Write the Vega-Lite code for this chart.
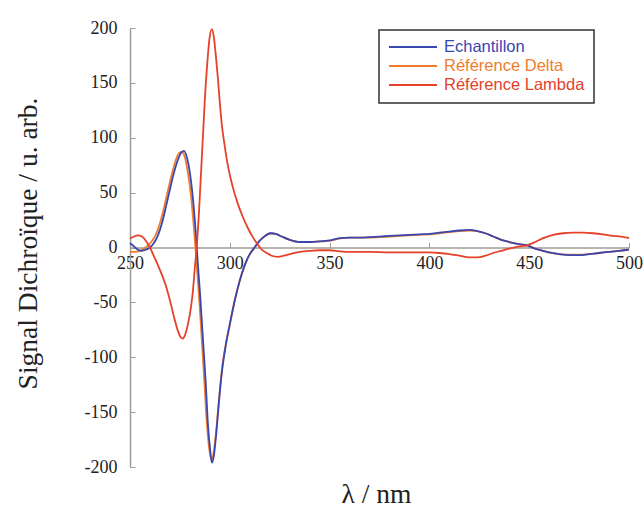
{
  "$schema": "https://vega.github.io/schema/vega-lite/v6.json",
  "autosize": {"type": "none"},
  "width": 499,
  "height": 439,
  "padding": {"left": 130, "top": 28, "right": 15, "bottom": 42},
  "background": "white",
  "config": {"view": {"stroke": null}, "axis": {"labelFont": "Times New Roman, Liberation Serif, serif", "titleFont": "Liberation Serif"}},
  "data": {"values": [
    {"s": "Référence Delta", "x": 250, "y": -4}, {"s": "Référence Delta", "x": 252, "y": -4}, {"s": "Référence Delta", "x": 255, "y": -3}, {"s": "Référence Delta", "x": 257, "y": -1}, {"s": "Référence Delta", "x": 259, "y": 2}, {"s": "Référence Delta", "x": 261, "y": 6}, {"s": "Référence Delta", "x": 263, "y": 12}, {"s": "Référence Delta", "x": 265, "y": 22}, {"s": "Référence Delta", "x": 267, "y": 36}, {"s": "Référence Delta", "x": 269, "y": 52}, {"s": "Référence Delta", "x": 271, "y": 67}, {"s": "Référence Delta", "x": 273, "y": 80}, {"s": "Référence Delta", "x": 274.5, "y": 86}, {"s": "Référence Delta", "x": 276, "y": 87}, {"s": "Référence Delta", "x": 277.5, "y": 82}, {"s": "Référence Delta", "x": 279, "y": 68}, {"s": "Référence Delta", "x": 280.5, "y": 48}, {"s": "Référence Delta", "x": 282, "y": 18}, {"s": "Référence Delta", "x": 283, "y": -5}, {"s": "Référence Delta", "x": 284, "y": -30}, {"s": "Référence Delta", "x": 285.5, "y": -70}, {"s": "Référence Delta", "x": 287, "y": -115}, {"s": "Référence Delta", "x": 288.5, "y": -160}, {"s": "Référence Delta", "x": 289.8, "y": -185}, {"s": "Référence Delta", "x": 290.8, "y": -193}, {"s": "Référence Delta", "x": 291.8, "y": -188}, {"s": "Référence Delta", "x": 293, "y": -170}, {"s": "Référence Delta", "x": 294.5, "y": -140}, {"s": "Référence Delta", "x": 296, "y": -112}, {"s": "Référence Delta", "x": 298, "y": -88}, {"s": "Référence Delta", "x": 300, "y": -70}, {"s": "Référence Delta", "x": 302.5, "y": -48}, {"s": "Référence Delta", "x": 305, "y": -30}, {"s": "Référence Delta", "x": 307.5, "y": -16}, {"s": "Référence Delta", "x": 310, "y": -6}, {"s": "Référence Delta", "x": 312, "y": -1}, {"s": "Référence Delta", "x": 314, "y": 4}, {"s": "Référence Delta", "x": 316, "y": 8}, {"s": "Référence Delta", "x": 318, "y": 11}, {"s": "Référence Delta", "x": 320.5, "y": 13}, {"s": "Référence Delta", "x": 323, "y": 12.5}, {"s": "Référence Delta", "x": 326, "y": 10}, {"s": "Référence Delta", "x": 330, "y": 7}, {"s": "Référence Delta", "x": 335, "y": 5}, {"s": "Référence Delta", "x": 340, "y": 5}, {"s": "Référence Delta", "x": 345, "y": 5.5}, {"s": "Référence Delta", "x": 350, "y": 6}, {"s": "Référence Delta", "x": 355, "y": 8}, {"s": "Référence Delta", "x": 360, "y": 9}, {"s": "Référence Delta", "x": 365, "y": 9}, {"s": "Référence Delta", "x": 370, "y": 9}, {"s": "Référence Delta", "x": 375, "y": 9.5}, {"s": "Référence Delta", "x": 380, "y": 10}, {"s": "Référence Delta", "x": 385, "y": 10.5}, {"s": "Référence Delta", "x": 390, "y": 11}, {"s": "Référence Delta", "x": 395, "y": 11.5}, {"s": "Référence Delta", "x": 400, "y": 12}, {"s": "Référence Delta", "x": 405, "y": 13}, {"s": "Référence Delta", "x": 410, "y": 14}, {"s": "Référence Delta", "x": 415, "y": 15}, {"s": "Référence Delta", "x": 420, "y": 15.5}, {"s": "Référence Delta", "x": 424, "y": 15}, {"s": "Référence Delta", "x": 428, "y": 13}, {"s": "Référence Delta", "x": 432, "y": 10}, {"s": "Référence Delta", "x": 436, "y": 7}, {"s": "Référence Delta", "x": 440, "y": 5}, {"s": "Référence Delta", "x": 445, "y": 3}, {"s": "Référence Delta", "x": 449, "y": 2}, {"s": "Référence Delta", "x": 453, "y": -1}, {"s": "Référence Delta", "x": 457, "y": -3}, {"s": "Référence Delta", "x": 460, "y": -4.5}, {"s": "Référence Delta", "x": 465, "y": -6}, {"s": "Référence Delta", "x": 470, "y": -6.5}, {"s": "Référence Delta", "x": 475, "y": -6.5}, {"s": "Référence Delta", "x": 480, "y": -6}, {"s": "Référence Delta", "x": 485, "y": -5}, {"s": "Référence Delta", "x": 490, "y": -4}, {"s": "Référence Delta", "x": 495, "y": -3}, {"s": "Référence Delta", "x": 500, "y": -2},

    {"s": "Echantillon", "x": 250, "y": 4}, {"s": "Echantillon", "x": 252, "y": 1}, {"s": "Echantillon", "x": 254, "y": -2}, {"s": "Echantillon", "x": 256, "y": -3}, {"s": "Echantillon", "x": 258, "y": -2}, {"s": "Echantillon", "x": 260, "y": 0}, {"s": "Echantillon", "x": 262, "y": 4}, {"s": "Echantillon", "x": 264, "y": 11}, {"s": "Echantillon", "x": 266, "y": 22}, {"s": "Echantillon", "x": 268, "y": 37}, {"s": "Echantillon", "x": 270, "y": 53}, {"s": "Echantillon", "x": 272, "y": 68}, {"s": "Echantillon", "x": 274, "y": 80}, {"s": "Echantillon", "x": 275.5, "y": 86}, {"s": "Echantillon", "x": 277, "y": 88}, {"s": "Echantillon", "x": 278.5, "y": 82}, {"s": "Echantillon", "x": 280, "y": 68}, {"s": "Echantillon", "x": 281.5, "y": 45}, {"s": "Echantillon", "x": 283, "y": 12}, {"s": "Echantillon", "x": 284, "y": -15}, {"s": "Echantillon", "x": 285.2, "y": -45}, {"s": "Echantillon", "x": 286.6, "y": -85}, {"s": "Echantillon", "x": 288, "y": -125}, {"s": "Echantillon", "x": 289, "y": -160}, {"s": "Echantillon", "x": 290.2, "y": -185}, {"s": "Echantillon", "x": 291, "y": -196}, {"s": "Echantillon", "x": 292, "y": -190}, {"s": "Echantillon", "x": 293.2, "y": -170}, {"s": "Echantillon", "x": 294.5, "y": -142}, {"s": "Echantillon", "x": 296, "y": -114}, {"s": "Echantillon", "x": 298, "y": -89}, {"s": "Echantillon", "x": 300, "y": -70}, {"s": "Echantillon", "x": 302.5, "y": -48}, {"s": "Echantillon", "x": 305, "y": -30}, {"s": "Echantillon", "x": 307.5, "y": -16}, {"s": "Echantillon", "x": 310, "y": -6}, {"s": "Echantillon", "x": 312, "y": -1}, {"s": "Echantillon", "x": 314, "y": 4}, {"s": "Echantillon", "x": 316, "y": 8}, {"s": "Echantillon", "x": 318, "y": 11}, {"s": "Echantillon", "x": 320.5, "y": 13}, {"s": "Echantillon", "x": 323, "y": 12.5}, {"s": "Echantillon", "x": 326, "y": 10}, {"s": "Echantillon", "x": 330, "y": 7}, {"s": "Echantillon", "x": 335, "y": 5}, {"s": "Echantillon", "x": 340, "y": 5}, {"s": "Echantillon", "x": 345, "y": 5.5}, {"s": "Echantillon", "x": 350, "y": 6.5}, {"s": "Echantillon", "x": 355, "y": 8.5}, {"s": "Echantillon", "x": 360, "y": 9}, {"s": "Echantillon", "x": 365, "y": 9}, {"s": "Echantillon", "x": 370, "y": 9.5}, {"s": "Echantillon", "x": 375, "y": 10}, {"s": "Echantillon", "x": 380, "y": 10.5}, {"s": "Echantillon", "x": 385, "y": 11}, {"s": "Echantillon", "x": 390, "y": 11.5}, {"s": "Echantillon", "x": 395, "y": 12}, {"s": "Echantillon", "x": 400, "y": 12.5}, {"s": "Echantillon", "x": 405, "y": 13.5}, {"s": "Echantillon", "x": 410, "y": 14.5}, {"s": "Echantillon", "x": 415, "y": 15.5}, {"s": "Echantillon", "x": 420, "y": 16}, {"s": "Echantillon", "x": 424, "y": 15}, {"s": "Echantillon", "x": 428, "y": 13}, {"s": "Echantillon", "x": 432, "y": 10}, {"s": "Echantillon", "x": 436, "y": 7}, {"s": "Echantillon", "x": 440, "y": 5}, {"s": "Echantillon", "x": 445, "y": 3}, {"s": "Echantillon", "x": 449, "y": 2}, {"s": "Echantillon", "x": 453, "y": -1}, {"s": "Echantillon", "x": 457, "y": -3}, {"s": "Echantillon", "x": 460, "y": -4.5}, {"s": "Echantillon", "x": 465, "y": -6}, {"s": "Echantillon", "x": 470, "y": -7}, {"s": "Echantillon", "x": 475, "y": -7}, {"s": "Echantillon", "x": 480, "y": -6}, {"s": "Echantillon", "x": 485, "y": -5}, {"s": "Echantillon", "x": 490, "y": -4}, {"s": "Echantillon", "x": 495, "y": -3}, {"s": "Echantillon", "x": 500, "y": -2},

    {"s": "Référence Lambda", "x": 250, "y": 8}, {"s": "Référence Lambda", "x": 252, "y": 10}, {"s": "Référence Lambda", "x": 254, "y": 11}, {"s": "Référence Lambda", "x": 256, "y": 10}, {"s": "Référence Lambda", "x": 258, "y": 6}, {"s": "Référence Lambda", "x": 260, "y": 0}, {"s": "Référence Lambda", "x": 262, "y": -8}, {"s": "Référence Lambda", "x": 264, "y": -16}, {"s": "Référence Lambda", "x": 266, "y": -25}, {"s": "Référence Lambda", "x": 268, "y": -35}, {"s": "Référence Lambda", "x": 270, "y": -48}, {"s": "Référence Lambda", "x": 272, "y": -63}, {"s": "Référence Lambda", "x": 274, "y": -76}, {"s": "Référence Lambda", "x": 275.5, "y": -82}, {"s": "Référence Lambda", "x": 276.5, "y": -83}, {"s": "Référence Lambda", "x": 277.5, "y": -80}, {"s": "Référence Lambda", "x": 279, "y": -70}, {"s": "Référence Lambda", "x": 280.5, "y": -55}, {"s": "Référence Lambda", "x": 281.5, "y": -40}, {"s": "Référence Lambda", "x": 282.5, "y": -18}, {"s": "Référence Lambda", "x": 283.5, "y": 2}, {"s": "Référence Lambda", "x": 284.5, "y": 30}, {"s": "Référence Lambda", "x": 285.5, "y": 65}, {"s": "Référence Lambda", "x": 286.5, "y": 100}, {"s": "Référence Lambda", "x": 287.5, "y": 135}, {"s": "Référence Lambda", "x": 288.6, "y": 165}, {"s": "Référence Lambda", "x": 289.8, "y": 190}, {"s": "Référence Lambda", "x": 291, "y": 199}, {"s": "Référence Lambda", "x": 292, "y": 192}, {"s": "Référence Lambda", "x": 293, "y": 175}, {"s": "Référence Lambda", "x": 294, "y": 155}, {"s": "Référence Lambda", "x": 295, "y": 132}, {"s": "Référence Lambda", "x": 296, "y": 112}, {"s": "Référence Lambda", "x": 297.5, "y": 92}, {"s": "Référence Lambda", "x": 299, "y": 75}, {"s": "Référence Lambda", "x": 301.5, "y": 55}, {"s": "Référence Lambda", "x": 304, "y": 40}, {"s": "Référence Lambda", "x": 306.5, "y": 28}, {"s": "Référence Lambda", "x": 309, "y": 18}, {"s": "Référence Lambda", "x": 311, "y": 11}, {"s": "Référence Lambda", "x": 313.5, "y": 4}, {"s": "Référence Lambda", "x": 316, "y": -2}, {"s": "Référence Lambda", "x": 318.5, "y": -5}, {"s": "Référence Lambda", "x": 321, "y": -7.5}, {"s": "Référence Lambda", "x": 324, "y": -8.5}, {"s": "Référence Lambda", "x": 327, "y": -7.5}, {"s": "Référence Lambda", "x": 331, "y": -5.5}, {"s": "Référence Lambda", "x": 335, "y": -4}, {"s": "Référence Lambda", "x": 340, "y": -3}, {"s": "Référence Lambda", "x": 345, "y": -2.5}, {"s": "Référence Lambda", "x": 350, "y": -2.5}, {"s": "Référence Lambda", "x": 355, "y": -3.5}, {"s": "Référence Lambda", "x": 360, "y": -4}, {"s": "Référence Lambda", "x": 370, "y": -4}, {"s": "Référence Lambda", "x": 380, "y": -4.5}, {"s": "Référence Lambda", "x": 390, "y": -4.5}, {"s": "Référence Lambda", "x": 400, "y": -4.5}, {"s": "Référence Lambda", "x": 405, "y": -5}, {"s": "Référence Lambda", "x": 410, "y": -6}, {"s": "Référence Lambda", "x": 415, "y": -7.5}, {"s": "Référence Lambda", "x": 420, "y": -9}, {"s": "Référence Lambda", "x": 424, "y": -9}, {"s": "Référence Lambda", "x": 428, "y": -7.5}, {"s": "Référence Lambda", "x": 432, "y": -5}, {"s": "Référence Lambda", "x": 436, "y": -3}, {"s": "Référence Lambda", "x": 440, "y": -1}, {"s": "Référence Lambda", "x": 445, "y": 1}, {"s": "Référence Lambda", "x": 449, "y": 2}, {"s": "Référence Lambda", "x": 453, "y": 5}, {"s": "Référence Lambda", "x": 457, "y": 8.5}, {"s": "Référence Lambda", "x": 462, "y": 11.5}, {"s": "Référence Lambda", "x": 467, "y": 13}, {"s": "Référence Lambda", "x": 472, "y": 13.5}, {"s": "Référence Lambda", "x": 477, "y": 13.5}, {"s": "Référence Lambda", "x": 482, "y": 13}, {"s": "Référence Lambda", "x": 487, "y": 12}, {"s": "Référence Lambda", "x": 492, "y": 10.5}, {"s": "Référence Lambda", "x": 496, "y": 10}, {"s": "Référence Lambda", "x": 500, "y": 8.5}
  ]},
  "mark": {"type": "line", "interpolate": "monotone", "strokeWidth": 1.8},
  "encoding": {
    "x": {
      "field": "x", "type": "quantitative",
      "scale": {"domain": [250, 500], "nice": false, "zero": false},
      "axis": {
        "values": [250, 300, 350, 400, 450, 500],
        "labelExpr": "toString(datum.value)",
        "offset": -219.5,
        "grid": false,
        "tickSize": -5,
        "tickColor": "#a39b94",
        "domainColor": "#a39b94",
        "domainWidth": 1.5,
        "labelFont": "Times New Roman, Liberation Serif, serif",
        "labelFontSize": 18,
        "labelColor": "#222222",
        "labelPadding": 12,
        "labelFlush": false,
        "labelOverlap": false,
        "title": "λ / nm",
        "titleFont": "Liberation Serif",
        "titleFontSize": 27.5,
        "titleFontWeight": "normal",
        "titleColor": "#222222",
        "titleX": 246,
        "titleY": 255,
        "titleBaseline": "alphabetic",
        "titleAlign": "center"
      }
    },
    "y": {
      "field": "y", "type": "quantitative",
      "scale": {"domain": [-200, 200], "nice": false},
      "axis": {
        "values": [-200, -150, -100, -50, 0, 50, 100, 150, 200],
        "labelExpr": "toString(datum.value)",
        "grid": false,
        "tickSize": -5,
        "tickColor": "#a39b94",
        "domainColor": "#a39b94",
        "domainWidth": 1.5,
        "labelFont": "Times New Roman, Liberation Serif, serif",
        "labelFontSize": 18,
        "labelColor": "#222222",
        "labelPadding": 18,
        "title": "Signal Dichroïque / u. arb.",
        "titleFont": "Liberation Serif",
        "titleFontSize": 27.5,
        "titleFontWeight": "normal",
        "titleColor": "#222222",
        "titleX": -102,
        "titleY": 215,
        "titleAngle": -90,
        "titleBaseline": "middle",
        "titleAlign": "center"
      }
    },
    "color": {
      "field": "s", "type": "nominal",
      "scale": {"domain": ["Echantillon", "Référence Delta", "Référence Lambda"], "range": ["#3a46b0", "#f07d2e", "#e6412a"]},
      "legend": {
        "title": null,
        "orient": "none",
        "legendX": 249,
        "legendY": 2,
        "symbolType": "stroke",
        "symbolSize": 2304,
        "symbolStrokeWidth": 1.8,
        "clipHeight": 16,
        "rowPadding": 2,
        "padding": 9,
        "labelFont": "Liberation Sans",
        "labelFontSize": 16.5,
        "labelOffset": 6,
        "strokeColor": "#333333",
        "fillColor": "white",
        "encode": {
          "labels": {"update": {"fill": {"scale": "color", "field": "value"}}},
          "legend": {"update": {"strokeWidth": {"value": 1.5}}}
        }
      }
    }
  }
}
